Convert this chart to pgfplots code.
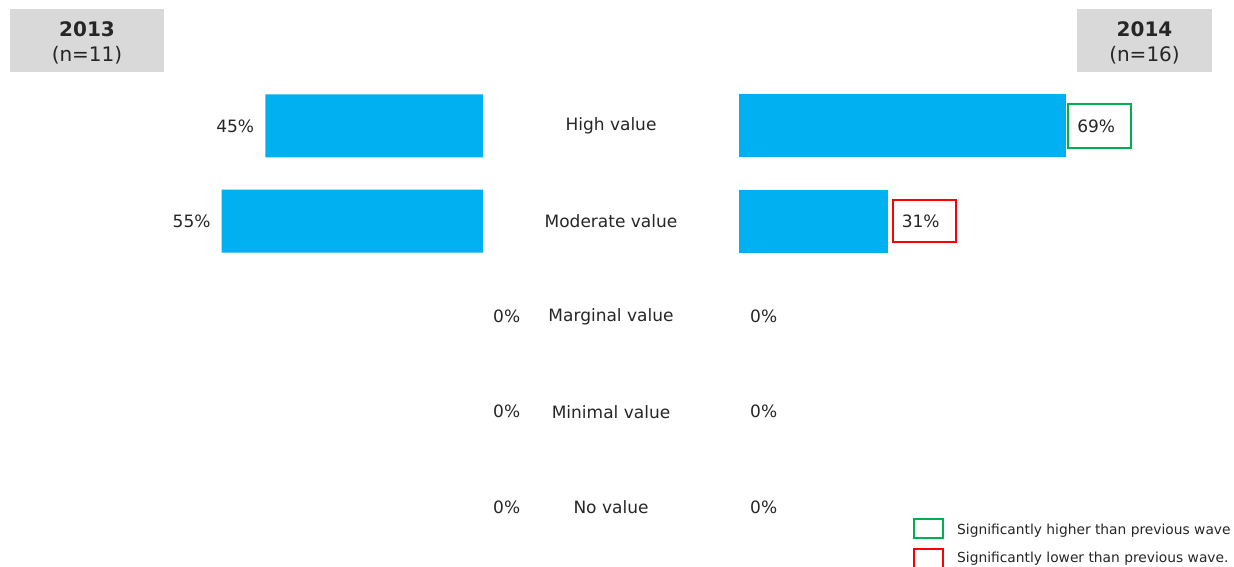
\documentclass[border=0pt]{standalone}
\usepackage{fontspec}
\setmainfont{DejaVu Sans}
\usepackage{pgfplots}
\pgfplotsset{compat=1.18}
\definecolor{barblue}{HTML}{00B0F0}
\definecolor{sigGreen}{HTML}{00B050}
\definecolor{sigRed}{HTML}{FF0000}
\definecolor{hdrgray}{HTML}{D9D9D9}
\definecolor{txt}{HTML}{262626}
\newcommand{\lbl}{\fontsize{17bp}{19bp}\selectfont}
\begin{document}
\begin{tikzpicture}[x=1bp,y=1bp]
\useasboundingbox (0,0) rectangle (1234,567);
\pgfplotsset{
  common/.style={
    scale only axis, height=476.25bp, anchor=south west,
    xmin=0, xmax=100, ymin=-0.5, ymax=4.5, y dir=reverse,
    axis line style={draw=none}, xtick=\empty, major tick length=0pt,
    xbar, bar width=63bp, bar shift=0pt,
    point meta=x,
    /pgf/number format/assume math mode=true,
    /pgf/number format/fixed, /pgf/number format/precision=0,
    nodes near coords={\pgfmathprintnumber{\pgfplotspointmeta}\%},
    clip=false,
  }
}
% 2013 (left, reversed), n=11
\begin{axis}[common, width=479bp, at={(4bp,12.375bp)}, x dir=reverse, ytick=\empty]
\addplot[fill=barblue, draw=none, bar shift=0pt,
  every node near coord/.append style={anchor=east, xshift=-11bp, inner sep=0pt, font=\lbl, text=txt}]
  coordinates {(45.45,0) (54.55,1)};
\addplot[fill=none, draw=none, bar shift=0pt,
  every node near coord/.append style={anchor=west, xshift=10bp, inner sep=0pt, font=\lbl, text=txt}]
  coordinates {(0,2) (0,3) (0,4)};
\end{axis}
% 2014 (right), n=16
\begin{axis}[common, width=476bp, at={(739bp,12.375bp)},
  ytick={0,1,2,3,4},
  yticklabels={High value, Moderate value, Marginal value, Minimal value, No value},
  yticklabel style={anchor=center, xshift=-128bp, font=\lbl, text=txt, inner sep=0pt}]
\addplot[fill=barblue, draw=none, bar shift=0pt,
  every node near coord/.append style={anchor=west, xshift=1bp, draw=sigGreen, line width=2bp,
    text width=45bp, align=left, inner xsep=9bp, inner ysep=0pt, minimum height=44bp, font=\lbl, text=txt}]
  coordinates {(68.75,0)};
\addplot[fill=barblue, draw=none, bar shift=0pt,
  every node near coord/.append style={anchor=west, xshift=4bp, draw=sigRed, line width=2bp,
    text width=45bp, align=left, inner xsep=9bp, inner ysep=0pt, minimum height=42bp, font=\lbl, text=txt}]
  coordinates {(31.25,1)};
\addplot[fill=none, draw=none, bar shift=0pt,
  every node near coord/.append style={anchor=west, xshift=11bp, inner sep=0pt, font=\lbl, text=txt}]
  coordinates {(0,2) (0,3) (0,4)};
\end{axis}
% headers
\fill[hdrgray] (10,495) rectangle (164,558);
\fill[hdrgray] (1077,495) rectangle (1212,558);
\node[inner sep=0pt, align=center, text=txt, font=\fontsize{20bp}{25bp}\selectfont]
  at (87,524.5) {\textbf{2013}\\(n=11)};
\node[inner sep=0pt, align=center, text=txt, font=\fontsize{20bp}{25bp}\selectfont]
  at (1144.5,524.5) {\textbf{2014}\\(n=16)};
% significance legend
\draw[sigGreen, line width=2bp] (914,29) rectangle (943,48);
\draw[sigRed, line width=2bp] (914,-5) rectangle (943,18);
\node[anchor=west, inner sep=0pt, text=txt, font=\fontsize{13.8bp}{15bp}\selectfont] at (957,36.5) {Significantly higher than previous wave};
\node[anchor=west, inner sep=0pt, text=txt, font=\fontsize{13.8bp}{15bp}\selectfont] at (957,8) {Significantly lower than previous wave.};
\end{tikzpicture}
\end{document}
